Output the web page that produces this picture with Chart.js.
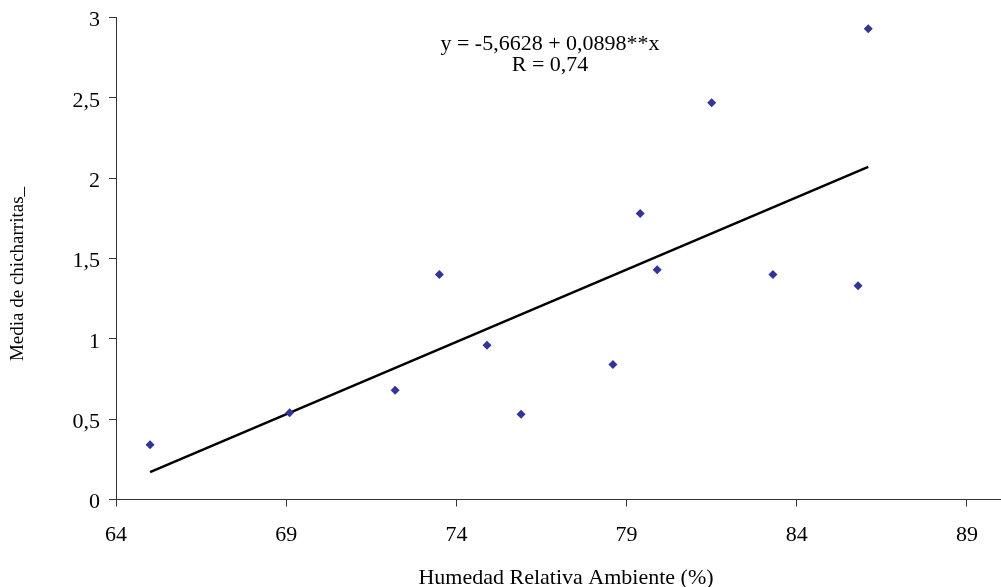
<!DOCTYPE html>
<html lang="es">
<head>
    <meta charset="UTF-8">
    <title>Media de chicharritas vs Humedad Relativa</title>
    <script src="https://cdn.jsdelivr.net/npm/chart.js"></script>
    <style>
        html, body { margin: 0; padding: 0; background: #fff; }
        #wrap { width: 1001px; height: 587px; }
    </style>
</head>
<body>
<div id="wrap"><canvas id="hrChart" width="1001" height="587"></canvas></div>

<script>
    // humedad relativa (%) y media de chicharritas
    const humedad = [65.0, 69.1, 72.2, 73.5, 74.9, 75.9, 78.6, 79.4, 79.9, 81.5, 83.3, 85.8, 86.1];
    const chicharritas = [0.34, 0.54, 0.68, 1.40, 0.96, 0.53, 0.84, 1.78, 1.43, 2.47, 1.40, 1.33, 2.93];

    // recta de regresion (extremos)
    const trendX = [65.0, 86.1];
    const trendY = [0.17, 2.07];

    const xTicks = [64, 69, 74, 79, 84, 89];
    const yTicks = [0, 0.5, 1, 1.5, 2, 2.5, 3];

    const ecuacion = ['y = -5,6628 + 0,0898**x', 'R = 0,74'];
    const tituloY = 'Media de chicharritas_';
    const tituloX = 'Humedad Relativa Ambiente (%)';

    const serif = "'Liberation Serif', 'Times New Roman', serif";

    // ecuacion y titulos de los ejes
    const textPlugin = {
        id: 'textPlugin',
        afterDraw(chart) {
            const ctx = chart.ctx;
            ctx.save();
            ctx.fillStyle = '#000';
            ctx.textAlign = 'center';
            ctx.textBaseline = 'alphabetic';
            ctx.font = '22px ' + serif;
            ctx.fillText(ecuacion[0], 550, 50);
            ctx.fillText(ecuacion[1], 550, 70.5);
            ctx.fillText(tituloX, 566, 584);

            ctx.font = '19px ' + serif;
            ctx.textBaseline = 'middle';
            ctx.translate(18, 274);
            ctx.rotate(-Math.PI / 2);
            ctx.fillText(tituloY, 0, 0);
            ctx.restore();
        }
    };

    const ctx = document.getElementById('hrChart').getContext('2d');
    new Chart(ctx, {
        type: 'scatter',
        data: {
            datasets: [{
                label: 'Media',
                data: humedad.map((h, i) => ({ x: h, y: chicharritas[i] })),
                pointStyle: 'rectRot',
                pointRadius: 4.5,
                backgroundColor: '#333399',
                borderColor: '#333399',
                borderWidth: 0,
                order: 1
            }, {
                label: 'Tendencia',
                type: 'line',
                data: trendX.map((x, i) => ({ x: x, y: trendY[i] })),
                borderColor: '#000',
                borderWidth: 2.5,
                pointRadius: 0,
                fill: false,
                order: 2
            }]
        },
        options: {
            responsive: false,
            animation: false,
            layout: { autoPadding: false, padding: { top: 17.5, right: 0, left: 0, bottom: 0 } },
            plugins: {
                legend: { display: false },
                tooltip: { enabled: false }
            },
            scales: {
                x: {
                    type: 'linear',
                    min: 64,
                    max: 90,
                    afterBuildTicks: (axis) => { axis.ticks = xTicks.map(v => ({ value: v })); },
                    afterFit: (axis) => { axis.height = 87.5; axis.paddingLeft = 0; axis.paddingRight = 0; },
                    grid: { drawOnChartArea: false, drawTicks: true, tickLength: 7, color: '#333' },
                    border: { display: true, color: '#333', width: 1 },
                    ticks: {
                        color: '#000',
                        padding: 16,
                        maxRotation: 0,
                        font: { family: serif, size: 22 }
                    }
                },
                y: {
                    min: 0,
                    max: 3,
                    afterBuildTicks: (axis) => { axis.ticks = yTicks.map(v => ({ value: v })); },
                    afterFit: (axis) => { axis.width = 116; axis.paddingTop = 0; axis.paddingBottom = 0; },
                    grid: { drawOnChartArea: false, drawTicks: true, tickLength: 7, color: '#333' },
                    border: { display: true, color: '#333', width: 1 },
                    ticks: {
                        color: '#000',
                        padding: 9,
                        labelOffset: 3,
                        font: { family: serif, size: 22 },
                        callback: (v) => String(v).replace('.', ',')
                    }
                }
            }
        },
        plugins: [textPlugin]
    });
</script>
</body>
</html>
